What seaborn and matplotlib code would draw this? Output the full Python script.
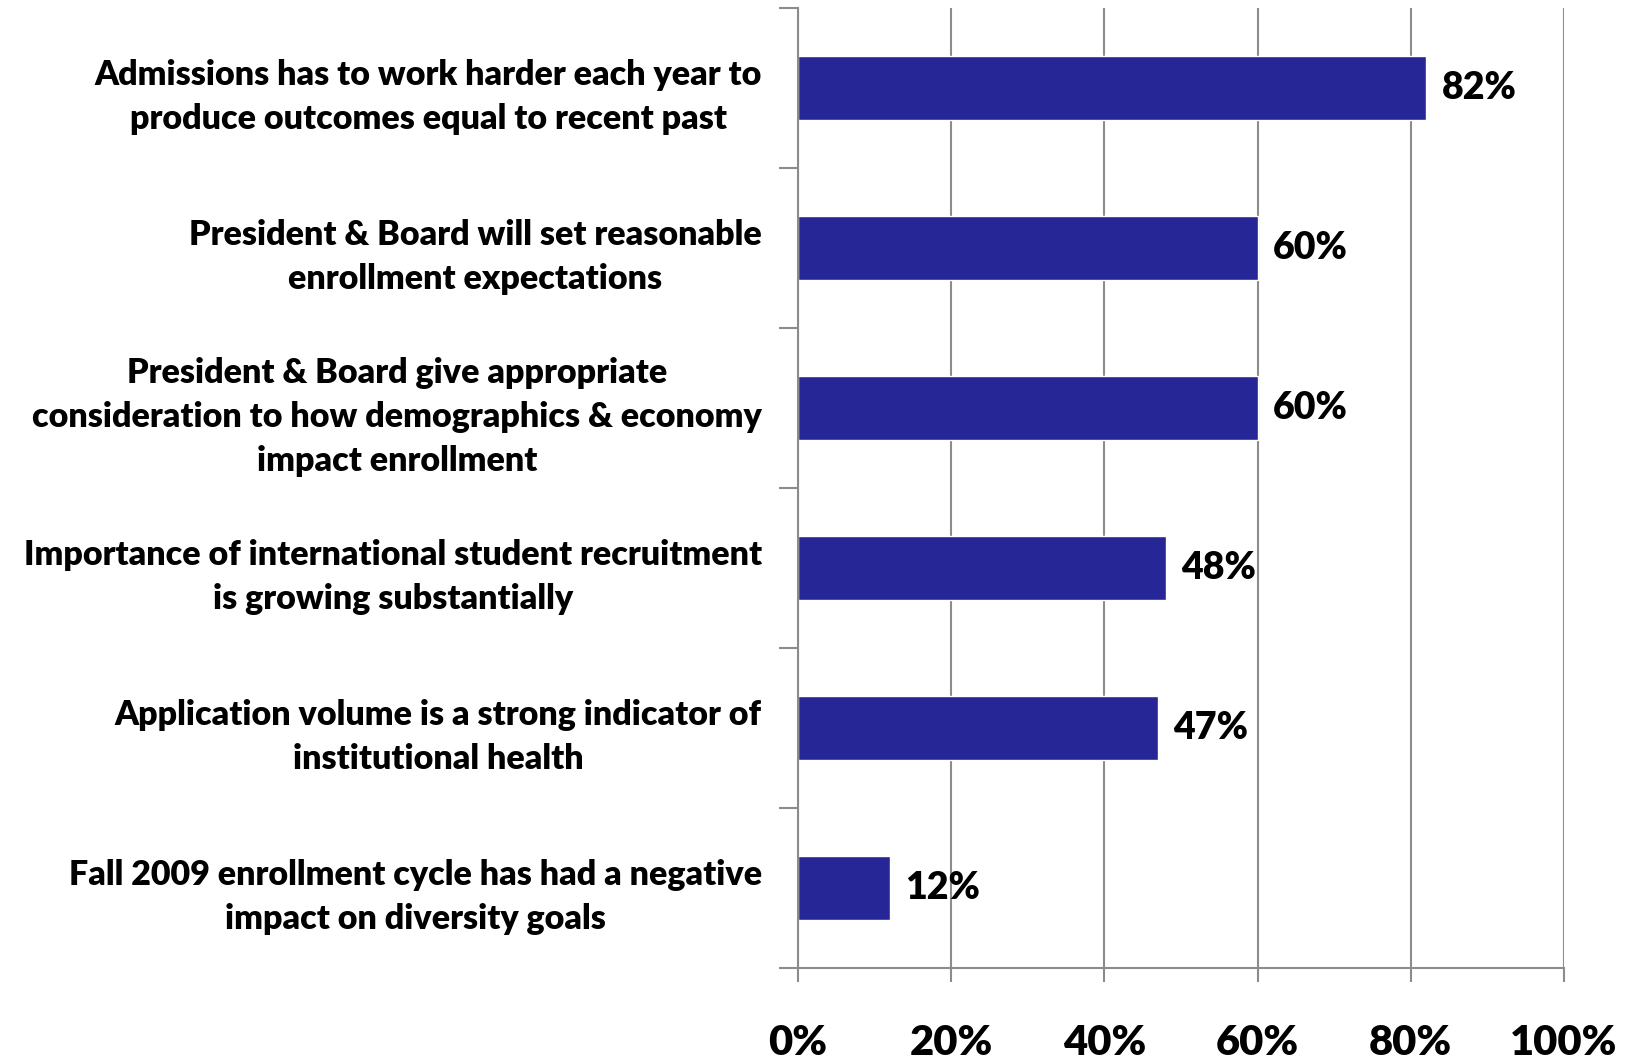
import pandas as pd
import numpy as np
import matplotlib
matplotlib.use("Agg")
import matplotlib.pyplot as plt
import seaborn as sns

# survey statements and share agreeing (%)
statements = [
    "Admissions has to work harder each year to\nproduce outcomes equal to recent past",
    "President & Board will set reasonable\nenrollment expectations",
    "President & Board give appropriate\nconsideration to how demographics & economy\nimpact enrollment",
    "Importance of international student recruitment\nis growing substantially",
    "Application volume is a strong indicator of\ninstitutional health",
    "Fall 2009 enrollment cycle has had a negative\nimpact on diversity goals",
]
agree_pct = [82, 60, 60, 48, 47, 12]
x_ticks = [0, 20, 40, 60, 80, 100]

df = pd.DataFrame({"statement": statements, "pct": agree_pct})

sns.set_style("white")
plt.rcParams["font.family"] = ["Lato", "DejaVu Sans"]
plt.rcParams["font.weight"] = "heavy"
plt.rcParams["text.color"] = "black"
plt.rcParams["xtick.color"] = "#8c8c8c"
plt.rcParams["ytick.color"] = "#8c8c8c"

fig = plt.figure(figsize=(16.37, 10.60), dpi=100)
ax = fig.add_axes([0.4875, 0.0868, 0.4679, 0.9057])

sns.barplot(data=df, x="pct", y="statement", orient="h", color="#262696",
            width=0.4, saturation=1, ax=ax)

grid_col = "#8c8c8c"
ax.set_xlim(0, 100)
ax.set_ylim(len(statements) - 0.5, -0.5)
ax.set_xticks(x_ticks)
ax.set_xticklabels([f"{v}%" for v in x_ticks], fontsize=30, fontweight="heavy",
                   color="black")
ax.xaxis.grid(True, color=grid_col, linewidth=1.5)
ax.set_axisbelow(True)

# category boundary ticks on the y axis
ax.set_yticks(np.arange(len(statements) + 1) - 0.5, minor=True)
ax.tick_params(axis="y", which="major", left=False, length=0, pad=26)
ax.tick_params(axis="y", which="minor", left=True, length=14, width=1.5,
               color=grid_col)
ax.tick_params(axis="x", bottom=True, length=10, width=1.5, color=grid_col,
               pad=30)
for lab in ax.get_yticklabels():
    lab.set_fontsize(24.5)
    lab.set_fontweight("heavy")
    lab.set_color("black")
    lab.set_multialignment("center")
    lab.set_linespacing(1.47)

for side in ["top", "right"]:
    ax.spines[side].set_visible(False)
for side in ["left", "bottom"]:
    ax.spines[side].set_color(grid_col)
    ax.spines[side].set_linewidth(1.5)

ax.set_xlabel("")
ax.set_ylabel("")

for i, v in enumerate(agree_pct):
    ax.text(v + 2, i, f"{v}%", va="center", ha="left",
            fontsize=27, fontweight="heavy", color="black")

fig.savefig("out.png", dpi=100)
